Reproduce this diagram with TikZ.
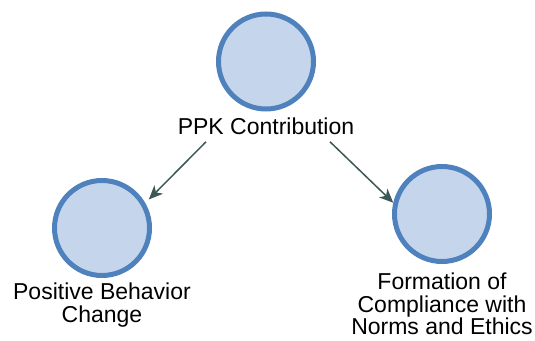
\documentclass[tikz,border=0pt]{standalone}
\usepackage{fontspec}
\setmainfont{Liberation Sans}
\usepackage{xcolor}
\usepackage{tikz}
\usetikzlibrary{arrows.meta, positioning}

\definecolor{bubblefill}{RGB}{197,214,236}
\definecolor{bubbledraw}{RGB}{79,129,189}
\definecolor{linkcolor}{RGB}{60,88,84}

\begin{document}
\begin{tikzpicture}[x=1pt, y=1pt,
    bubble/.style={circle, draw=bubbledraw, fill=bubblefill, line width=5pt, minimum size=95pt, inner sep=0pt},
    caption/.style={inner sep=0pt, align=center, font=\fontsize{23}{22.5}\selectfont},
    link/.style={draw=linkcolor, line width=1.5pt, -{Stealth[length=14pt, width=12pt, inset=4pt]}}]

\useasboundingbox (0,0) rectangle (535,340);

% Concept circles
\node[bubble] (ppk) at (266,278.5) {};
\node[bubble] (behav) at (102,112) {};
\node[bubble] (norms) at (442,126) {};

% Labels under the circles
\node[caption, below=6pt of ppk] (ppklab) {PPK Contribution};
\node[caption, below=5pt of behav] (behavlab) {Positive Behavior\\Change};
\node[caption, below=9pt of norms] (normslab) {Formation of\\Compliance with\\Norms and Ethics};

% Influence arrows
\draw[link, shorten >=5pt] ([xshift=-60pt, yshift=-7pt]ppklab.south) -- (behav.30);
\draw[link] ([xshift=64pt, yshift=-7pt]ppklab.south) -- (norms.167);

\end{tikzpicture}
\end{document}
